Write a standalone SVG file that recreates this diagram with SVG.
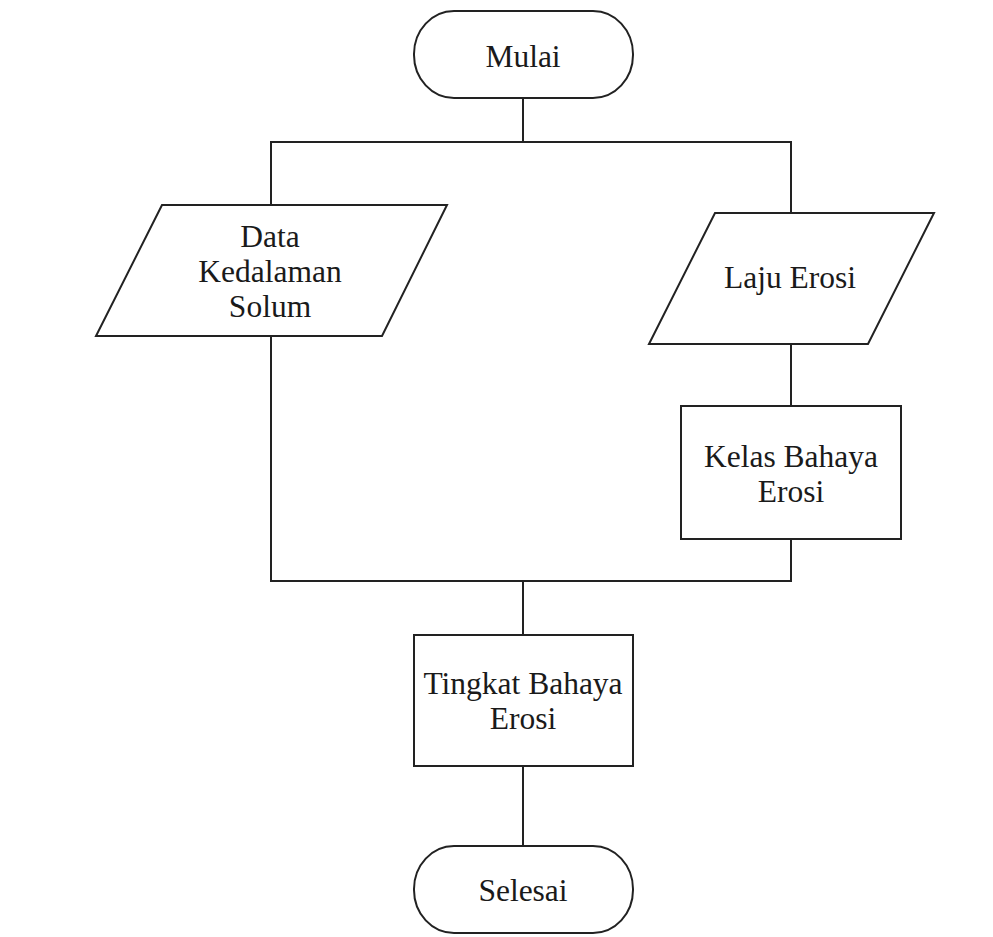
<svg xmlns="http://www.w3.org/2000/svg" width="993" height="937" viewBox="0 0 993 937">
<style>
.shape{fill:#ffffff;stroke:#222222;stroke-width:2}
.conn{fill:none;stroke:#222222;stroke-width:2}
.lbl{font-family:"Liberation Serif","Times New Roman",serif;font-size:31.5px;fill:#1a1a1a;text-anchor:middle}
</style>
<rect x="0" y="0" width="993" height="937" fill="#ffffff"/>
<g id="connectors">
<polyline class="conn" points="523,98 523,142"/>
<polyline class="conn" points="271,205 271,142 791,142 791,213"/>
<polyline class="conn" points="791,344 791,406"/>
<polyline class="conn" points="271,336 271,581 791,581 791,539"/>
<polyline class="conn" points="523,581 523,635"/>
<polyline class="conn" points="523,766 523,846"/>
</g>
<g id="mulai">
<rect class="shape" x="414" y="11" width="219" height="87" rx="40" ry="43"/>
<text class="lbl" x="523" y="67">Mulai</text>
</g>
<g id="data-kedalaman-solum">
<polygon class="shape" points="162,205 447,205 382,336 96,336"/>
<text class="lbl" x="270" y="247">Data</text>
<text class="lbl" x="270" y="282">Kedalaman</text>
<text class="lbl" x="270" y="317">Solum</text>
</g>
<g id="laju-erosi">
<polygon class="shape" points="715,213 934,213 868,344 649,344"/>
<text class="lbl" x="790" y="288">Laju Erosi</text>
</g>
<g id="kelas-bahaya-erosi">
<rect class="shape" x="681" y="406" width="220" height="133"/>
<text class="lbl" x="791" y="467">Kelas Bahaya</text>
<text class="lbl" x="791" y="502">Erosi</text>
</g>
<g id="tingkat-bahaya-erosi">
<rect class="shape" x="414" y="635" width="219" height="131"/>
<text class="lbl" x="523" y="694">Tingkat Bahaya</text>
<text class="lbl" x="523" y="729">Erosi</text>
</g>
<g id="selesai">
<rect class="shape" x="414" y="846" width="219" height="87" rx="40" ry="43"/>
<text class="lbl" x="523" y="901">Selesai</text>
</g>
</svg>
